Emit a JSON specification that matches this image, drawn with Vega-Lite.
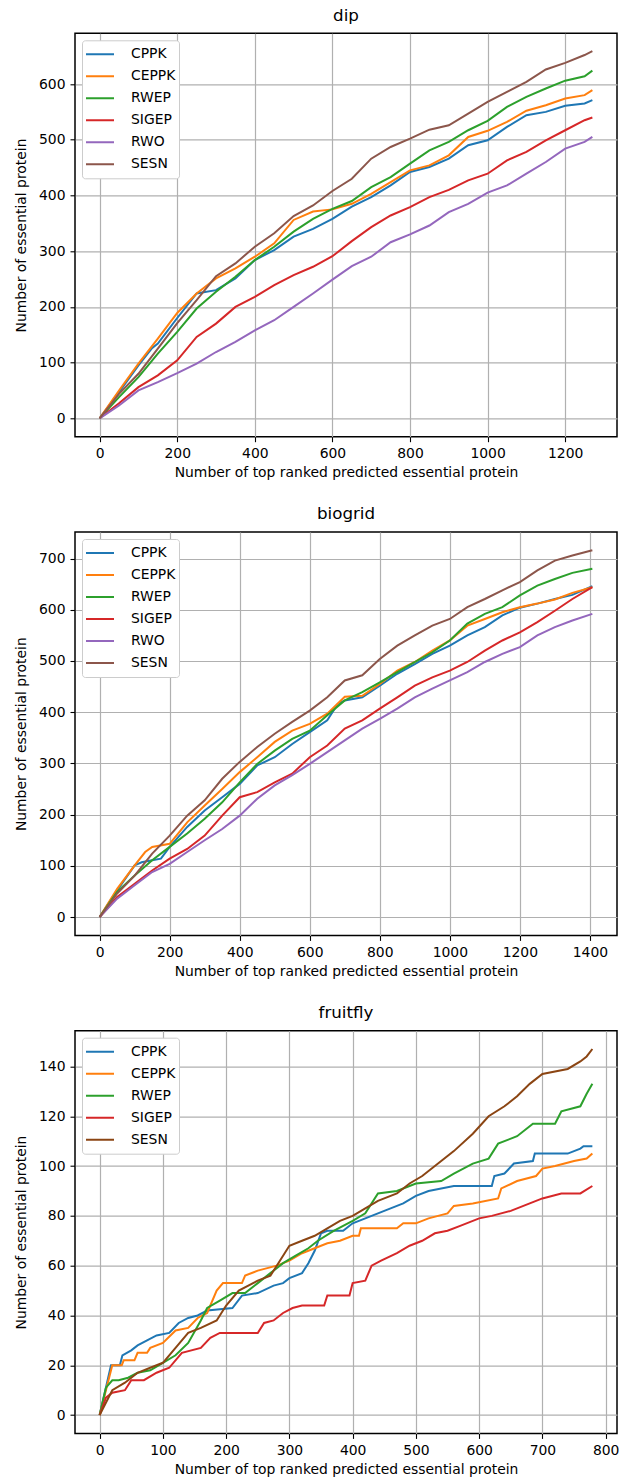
{
  "$schema": "https://vega.github.io/schema/vega-lite/v6.json",
  "autosize": {"type": "none"},
  "padding": {"left": 75, "top": 33.3, "right": 544, "bottom": 1449.7},
  "background": "white",
  "bounds": "flush",
  "spacing": 94.7,
  "datasets": {
    "dip": [
      {"m":"CPPK","x":0,"y":0},{"m":"CPPK","x":50,"y":47},{"m":"CPPK","x":100,"y":95},{"m":"CPPK","x":135,"y":126},{"m":"CPPK","x":150,"y":134},{"m":"CPPK","x":200,"y":180},{"m":"CPPK","x":250,"y":224},{"m":"CPPK","x":300,"y":230},{"m":"CPPK","x":350,"y":251},{"m":"CPPK","x":400,"y":284},{"m":"CPPK","x":450,"y":302},{"m":"CPPK","x":500,"y":326},{"m":"CPPK","x":550,"y":340},{"m":"CPPK","x":600,"y":358},{"m":"CPPK","x":650,"y":380},{"m":"CPPK","x":700,"y":397},{"m":"CPPK","x":750,"y":418},{"m":"CPPK","x":800,"y":442},{"m":"CPPK","x":850,"y":451},{"m":"CPPK","x":900,"y":466},{"m":"CPPK","x":950,"y":490},{"m":"CPPK","x":1000,"y":499},{"m":"CPPK","x":1050,"y":523},{"m":"CPPK","x":1100,"y":544},{"m":"CPPK","x":1150,"y":550},{"m":"CPPK","x":1200,"y":561},{"m":"CPPK","x":1250,"y":565},{"m":"CPPK","x":1270,"y":571},
      {"m":"CEPPK","x":0,"y":0},{"m":"CEPPK","x":50,"y":50},{"m":"CEPPK","x":100,"y":98},{"m":"CEPPK","x":150,"y":143},{"m":"CEPPK","x":200,"y":189},{"m":"CEPPK","x":250,"y":224},{"m":"CEPPK","x":300,"y":251},{"m":"CEPPK","x":350,"y":269},{"m":"CEPPK","x":400,"y":290},{"m":"CEPPK","x":450,"y":314},{"m":"CEPPK","x":500,"y":356},{"m":"CEPPK","x":550,"y":371},{"m":"CEPPK","x":600,"y":375},{"m":"CEPPK","x":650,"y":385},{"m":"CEPPK","x":700,"y":403},{"m":"CEPPK","x":750,"y":424},{"m":"CEPPK","x":800,"y":445},{"m":"CEPPK","x":850,"y":454},{"m":"CEPPK","x":900,"y":472},{"m":"CEPPK","x":950,"y":505},{"m":"CEPPK","x":1000,"y":516},{"m":"CEPPK","x":1050,"y":532},{"m":"CEPPK","x":1100,"y":552},{"m":"CEPPK","x":1150,"y":562},{"m":"CEPPK","x":1200,"y":574},{"m":"CEPPK","x":1250,"y":580},{"m":"CEPPK","x":1270,"y":589},
      {"m":"RWEP","x":0,"y":0},{"m":"RWEP","x":50,"y":38},{"m":"RWEP","x":100,"y":74},{"m":"RWEP","x":150,"y":116},{"m":"RWEP","x":200,"y":155},{"m":"RWEP","x":250,"y":197},{"m":"RWEP","x":300,"y":227},{"m":"RWEP","x":350,"y":254},{"m":"RWEP","x":400,"y":284},{"m":"RWEP","x":450,"y":308},{"m":"RWEP","x":500,"y":335},{"m":"RWEP","x":550,"y":358},{"m":"RWEP","x":600,"y":376},{"m":"RWEP","x":650,"y":390},{"m":"RWEP","x":700,"y":415},{"m":"RWEP","x":750,"y":433},{"m":"RWEP","x":800,"y":457},{"m":"RWEP","x":850,"y":481},{"m":"RWEP","x":900,"y":496},{"m":"RWEP","x":950,"y":517},{"m":"RWEP","x":1000,"y":534},{"m":"RWEP","x":1050,"y":559},{"m":"RWEP","x":1100,"y":577},{"m":"RWEP","x":1150,"y":592},{"m":"RWEP","x":1200,"y":606},{"m":"RWEP","x":1250,"y":614},{"m":"RWEP","x":1270,"y":624},
      {"m":"SIGEP","x":0,"y":0},{"m":"SIGEP","x":50,"y":27},{"m":"SIGEP","x":100,"y":56},{"m":"SIGEP","x":150,"y":77},{"m":"SIGEP","x":200,"y":104},{"m":"SIGEP","x":250,"y":146},{"m":"SIGEP","x":300,"y":170},{"m":"SIGEP","x":350,"y":200},{"m":"SIGEP","x":400,"y":218},{"m":"SIGEP","x":450,"y":239},{"m":"SIGEP","x":500,"y":257},{"m":"SIGEP","x":550,"y":272},{"m":"SIGEP","x":600,"y":291},{"m":"SIGEP","x":650,"y":318},{"m":"SIGEP","x":700,"y":343},{"m":"SIGEP","x":750,"y":364},{"m":"SIGEP","x":800,"y":379},{"m":"SIGEP","x":850,"y":397},{"m":"SIGEP","x":900,"y":410},{"m":"SIGEP","x":950,"y":427},{"m":"SIGEP","x":1000,"y":439},{"m":"SIGEP","x":1050,"y":463},{"m":"SIGEP","x":1100,"y":478},{"m":"SIGEP","x":1150,"y":499},{"m":"SIGEP","x":1200,"y":517},{"m":"SIGEP","x":1250,"y":535},{"m":"SIGEP","x":1270,"y":540},
      {"m":"RWO","x":0,"y":0},{"m":"RWO","x":50,"y":23},{"m":"RWO","x":100,"y":50},{"m":"RWO","x":150,"y":65},{"m":"RWO","x":200,"y":81},{"m":"RWO","x":250,"y":98},{"m":"RWO","x":300,"y":119},{"m":"RWO","x":350,"y":137},{"m":"RWO","x":400,"y":158},{"m":"RWO","x":450,"y":176},{"m":"RWO","x":500,"y":200},{"m":"RWO","x":550,"y":224},{"m":"RWO","x":600,"y":249},{"m":"RWO","x":650,"y":273},{"m":"RWO","x":700,"y":290},{"m":"RWO","x":750,"y":316},{"m":"RWO","x":800,"y":330},{"m":"RWO","x":850,"y":346},{"m":"RWO","x":900,"y":370},{"m":"RWO","x":950,"y":385},{"m":"RWO","x":1000,"y":405},{"m":"RWO","x":1050,"y":418},{"m":"RWO","x":1100,"y":439},{"m":"RWO","x":1150,"y":460},{"m":"RWO","x":1200,"y":484},{"m":"RWO","x":1250,"y":496},{"m":"RWO","x":1270,"y":505},
      {"m":"SESN","x":0,"y":0},{"m":"SESN","x":50,"y":44},{"m":"SESN","x":100,"y":80},{"m":"SESN","x":150,"y":125},{"m":"SESN","x":200,"y":171},{"m":"SESN","x":250,"y":212},{"m":"SESN","x":300,"y":255},{"m":"SESN","x":350,"y":278},{"m":"SESN","x":400,"y":308},{"m":"SESN","x":450,"y":332},{"m":"SESN","x":500,"y":363},{"m":"SESN","x":550,"y":382},{"m":"SESN","x":600,"y":408},{"m":"SESN","x":650,"y":430},{"m":"SESN","x":700,"y":466},{"m":"SESN","x":750,"y":487},{"m":"SESN","x":800,"y":502},{"m":"SESN","x":850,"y":518},{"m":"SESN","x":900,"y":526},{"m":"SESN","x":950,"y":547},{"m":"SESN","x":1000,"y":568},{"m":"SESN","x":1050,"y":586},{"m":"SESN","x":1100,"y":604},{"m":"SESN","x":1150,"y":626},{"m":"SESN","x":1200,"y":638},{"m":"SESN","x":1250,"y":652},{"m":"SESN","x":1270,"y":659}
    ],
    "biogrid": [
      {"m":"CPPK","x":0,"y":0},{"m":"CPPK","x":50,"y":52},{"m":"CPPK","x":100,"y":101},{"m":"CPPK","x":120,"y":107},{"m":"CPPK","x":150,"y":111},{"m":"CPPK","x":175,"y":114},{"m":"CPPK","x":200,"y":137},{"m":"CPPK","x":250,"y":176},{"m":"CPPK","x":300,"y":208},{"m":"CPPK","x":350,"y":234},{"m":"CPPK","x":400,"y":260},{"m":"CPPK","x":450,"y":296},{"m":"CPPK","x":500,"y":312},{"m":"CPPK","x":550,"y":338},{"m":"CPPK","x":600,"y":361},{"m":"CPPK","x":650,"y":384},{"m":"CPPK","x":680,"y":416},{"m":"CPPK","x":700,"y":423},{"m":"CPPK","x":750,"y":429},{"m":"CPPK","x":800,"y":452},{"m":"CPPK","x":850,"y":475},{"m":"CPPK","x":900,"y":494},{"m":"CPPK","x":950,"y":514},{"m":"CPPK","x":1000,"y":530},{"m":"CPPK","x":1050,"y":550},{"m":"CPPK","x":1100,"y":566},{"m":"CPPK","x":1150,"y":589},{"m":"CPPK","x":1200,"y":604},{"m":"CPPK","x":1250,"y":612},{"m":"CPPK","x":1300,"y":621},{"m":"CPPK","x":1350,"y":629},{"m":"CPPK","x":1407,"y":646},
      {"m":"CEPPK","x":0,"y":0},{"m":"CEPPK","x":50,"y":55},{"m":"CEPPK","x":100,"y":101},{"m":"CEPPK","x":130,"y":127},{"m":"CEPPK","x":150,"y":137},{"m":"CEPPK","x":200,"y":143},{"m":"CEPPK","x":250,"y":185},{"m":"CEPPK","x":300,"y":218},{"m":"CEPPK","x":350,"y":250},{"m":"CEPPK","x":400,"y":283},{"m":"CEPPK","x":450,"y":312},{"m":"CEPPK","x":500,"y":342},{"m":"CEPPK","x":550,"y":364},{"m":"CEPPK","x":600,"y":377},{"m":"CEPPK","x":650,"y":397},{"m":"CEPPK","x":700,"y":430},{"m":"CEPPK","x":750,"y":432},{"m":"CEPPK","x":800,"y":455},{"m":"CEPPK","x":850,"y":481},{"m":"CEPPK","x":900,"y":498},{"m":"CEPPK","x":950,"y":520},{"m":"CEPPK","x":1000,"y":540},{"m":"CEPPK","x":1050,"y":569},{"m":"CEPPK","x":1100,"y":582},{"m":"CEPPK","x":1150,"y":595},{"m":"CEPPK","x":1200,"y":605},{"m":"CEPPK","x":1250,"y":612},{"m":"CEPPK","x":1300,"y":620},{"m":"CEPPK","x":1350,"y":633},{"m":"CEPPK","x":1407,"y":644},
      {"m":"RWEP","x":0,"y":0},{"m":"RWEP","x":50,"y":49},{"m":"RWEP","x":100,"y":81},{"m":"RWEP","x":150,"y":111},{"m":"RWEP","x":200,"y":137},{"m":"RWEP","x":250,"y":163},{"m":"RWEP","x":300,"y":192},{"m":"RWEP","x":350,"y":224},{"m":"RWEP","x":400,"y":263},{"m":"RWEP","x":450,"y":299},{"m":"RWEP","x":500,"y":325},{"m":"RWEP","x":550,"y":348},{"m":"RWEP","x":600,"y":364},{"m":"RWEP","x":650,"y":394},{"m":"RWEP","x":700,"y":423},{"m":"RWEP","x":750,"y":439},{"m":"RWEP","x":800,"y":458},{"m":"RWEP","x":850,"y":478},{"m":"RWEP","x":900,"y":498},{"m":"RWEP","x":950,"y":517},{"m":"RWEP","x":1000,"y":540},{"m":"RWEP","x":1050,"y":573},{"m":"RWEP","x":1100,"y":592},{"m":"RWEP","x":1150,"y":605},{"m":"RWEP","x":1200,"y":628},{"m":"RWEP","x":1250,"y":647},{"m":"RWEP","x":1300,"y":660},{"m":"RWEP","x":1350,"y":672},{"m":"RWEP","x":1407,"y":680},
      {"m":"SIGEP","x":0,"y":0},{"m":"SIGEP","x":50,"y":39},{"m":"SIGEP","x":100,"y":65},{"m":"SIGEP","x":150,"y":91},{"m":"SIGEP","x":200,"y":114},{"m":"SIGEP","x":250,"y":133},{"m":"SIGEP","x":300,"y":159},{"m":"SIGEP","x":350,"y":198},{"m":"SIGEP","x":400,"y":234},{"m":"SIGEP","x":450,"y":244},{"m":"SIGEP","x":500,"y":263},{"m":"SIGEP","x":550,"y":280},{"m":"SIGEP","x":600,"y":312},{"m":"SIGEP","x":650,"y":335},{"m":"SIGEP","x":700,"y":368},{"m":"SIGEP","x":750,"y":384},{"m":"SIGEP","x":800,"y":407},{"m":"SIGEP","x":850,"y":429},{"m":"SIGEP","x":900,"y":452},{"m":"SIGEP","x":950,"y":468},{"m":"SIGEP","x":1000,"y":481},{"m":"SIGEP","x":1050,"y":498},{"m":"SIGEP","x":1100,"y":520},{"m":"SIGEP","x":1150,"y":540},{"m":"SIGEP","x":1200,"y":556},{"m":"SIGEP","x":1250,"y":576},{"m":"SIGEP","x":1300,"y":598},{"m":"SIGEP","x":1350,"y":621},{"m":"SIGEP","x":1407,"y":644},
      {"m":"RWO","x":0,"y":0},{"m":"RWO","x":50,"y":36},{"m":"RWO","x":100,"y":62},{"m":"RWO","x":150,"y":88},{"m":"RWO","x":200,"y":104},{"m":"RWO","x":250,"y":127},{"m":"RWO","x":300,"y":150},{"m":"RWO","x":350,"y":172},{"m":"RWO","x":400,"y":198},{"m":"RWO","x":450,"y":231},{"m":"RWO","x":500,"y":257},{"m":"RWO","x":550,"y":277},{"m":"RWO","x":600,"y":299},{"m":"RWO","x":650,"y":322},{"m":"RWO","x":700,"y":345},{"m":"RWO","x":750,"y":368},{"m":"RWO","x":800,"y":387},{"m":"RWO","x":850,"y":407},{"m":"RWO","x":900,"y":429},{"m":"RWO","x":950,"y":446},{"m":"RWO","x":1000,"y":462},{"m":"RWO","x":1050,"y":478},{"m":"RWO","x":1100,"y":498},{"m":"RWO","x":1150,"y":514},{"m":"RWO","x":1200,"y":527},{"m":"RWO","x":1250,"y":550},{"m":"RWO","x":1300,"y":566},{"m":"RWO","x":1350,"y":579},{"m":"RWO","x":1407,"y":592},
      {"m":"SESN","x":0,"y":0},{"m":"SESN","x":50,"y":46},{"m":"SESN","x":100,"y":81},{"m":"SESN","x":150,"y":124},{"m":"SESN","x":200,"y":159},{"m":"SESN","x":250,"y":198},{"m":"SESN","x":300,"y":228},{"m":"SESN","x":350,"y":270},{"m":"SESN","x":400,"y":303},{"m":"SESN","x":450,"y":332},{"m":"SESN","x":500,"y":358},{"m":"SESN","x":550,"y":381},{"m":"SESN","x":600,"y":403},{"m":"SESN","x":650,"y":429},{"m":"SESN","x":700,"y":462},{"m":"SESN","x":750,"y":472},{"m":"SESN","x":800,"y":504},{"m":"SESN","x":850,"y":530},{"m":"SESN","x":900,"y":550},{"m":"SESN","x":950,"y":569},{"m":"SESN","x":1000,"y":582},{"m":"SESN","x":1050,"y":605},{"m":"SESN","x":1100,"y":621},{"m":"SESN","x":1150,"y":638},{"m":"SESN","x":1200,"y":654},{"m":"SESN","x":1250,"y":677},{"m":"SESN","x":1300,"y":696},{"m":"SESN","x":1350,"y":706},{"m":"SESN","x":1407,"y":716}
    ],
    "fruitfly": [
      {"m":"CPPK","x":0,"y":0},{"m":"CPPK","x":18,"y":20},{"m":"CPPK","x":32,"y":20},{"m":"CPPK","x":36,"y":24},{"m":"CPPK","x":50,"y":26},{"m":"CPPK","x":60,"y":28},{"m":"CPPK","x":75,"y":30},{"m":"CPPK","x":90,"y":32},{"m":"CPPK","x":110,"y":33},{"m":"CPPK","x":125,"y":37},{"m":"CPPK","x":140,"y":39},{"m":"CPPK","x":155,"y":40},{"m":"CPPK","x":170,"y":42},{"m":"CPPK","x":210,"y":43},{"m":"CPPK","x":225,"y":48},{"m":"CPPK","x":250,"y":49},{"m":"CPPK","x":275,"y":52},{"m":"CPPK","x":290,"y":53},{"m":"CPPK","x":300,"y":55},{"m":"CPPK","x":320,"y":57},{"m":"CPPK","x":330,"y":61},{"m":"CPPK","x":340,"y":66},{"m":"CPPK","x":350,"y":73},{"m":"CPPK","x":360,"y":74},{"m":"CPPK","x":385,"y":74},{"m":"CPPK","x":400,"y":77},{"m":"CPPK","x":430,"y":80},{"m":"CPPK","x":460,"y":83},{"m":"CPPK","x":480,"y":85},{"m":"CPPK","x":500,"y":88},{"m":"CPPK","x":520,"y":90},{"m":"CPPK","x":560,"y":92},{"m":"CPPK","x":620,"y":92},{"m":"CPPK","x":624,"y":96},{"m":"CPPK","x":640,"y":97},{"m":"CPPK","x":655,"y":101},{"m":"CPPK","x":685,"y":102},{"m":"CPPK","x":688,"y":105},{"m":"CPPK","x":740,"y":105},{"m":"CPPK","x":760,"y":107},{"m":"CPPK","x":765,"y":108},{"m":"CPPK","x":779,"y":108},
      {"m":"CEPPK","x":0,"y":0},{"m":"CEPPK","x":20,"y":20},{"m":"CEPPK","x":35,"y":20},{"m":"CEPPK","x":38,"y":22},{"m":"CEPPK","x":55,"y":22},{"m":"CEPPK","x":60,"y":25},{"m":"CEPPK","x":75,"y":25},{"m":"CEPPK","x":80,"y":27},{"m":"CEPPK","x":100,"y":29},{"m":"CEPPK","x":120,"y":34},{"m":"CEPPK","x":140,"y":35},{"m":"CEPPK","x":155,"y":39},{"m":"CEPPK","x":170,"y":41},{"m":"CEPPK","x":185,"y":50},{"m":"CEPPK","x":195,"y":53},{"m":"CEPPK","x":225,"y":53},{"m":"CEPPK","x":230,"y":56},{"m":"CEPPK","x":250,"y":58},{"m":"CEPPK","x":280,"y":60},{"m":"CEPPK","x":300,"y":62},{"m":"CEPPK","x":320,"y":65},{"m":"CEPPK","x":340,"y":67},{"m":"CEPPK","x":360,"y":69},{"m":"CEPPK","x":380,"y":70},{"m":"CEPPK","x":400,"y":72},{"m":"CEPPK","x":410,"y":72},{"m":"CEPPK","x":413,"y":75},{"m":"CEPPK","x":470,"y":75},{"m":"CEPPK","x":480,"y":77},{"m":"CEPPK","x":500,"y":77},{"m":"CEPPK","x":520,"y":79},{"m":"CEPPK","x":550,"y":81},{"m":"CEPPK","x":560,"y":84},{"m":"CEPPK","x":590,"y":85},{"m":"CEPPK","x":630,"y":87},{"m":"CEPPK","x":635,"y":91},{"m":"CEPPK","x":660,"y":94},{"m":"CEPPK","x":690,"y":96},{"m":"CEPPK","x":700,"y":99},{"m":"CEPPK","x":720,"y":100},{"m":"CEPPK","x":750,"y":102},{"m":"CEPPK","x":770,"y":103},{"m":"CEPPK","x":779,"y":105},
      {"m":"RWEP","x":0,"y":0},{"m":"RWEP","x":10,"y":11},{"m":"RWEP","x":20,"y":14},{"m":"RWEP","x":30,"y":14},{"m":"RWEP","x":45,"y":15},{"m":"RWEP","x":60,"y":17},{"m":"RWEP","x":80,"y":18},{"m":"RWEP","x":100,"y":21},{"m":"RWEP","x":120,"y":24},{"m":"RWEP","x":140,"y":29},{"m":"RWEP","x":160,"y":38},{"m":"RWEP","x":170,"y":43},{"m":"RWEP","x":190,"y":46},{"m":"RWEP","x":210,"y":49},{"m":"RWEP","x":230,"y":49},{"m":"RWEP","x":250,"y":53},{"m":"RWEP","x":270,"y":57},{"m":"RWEP","x":290,"y":61},{"m":"RWEP","x":310,"y":64},{"m":"RWEP","x":330,"y":67},{"m":"RWEP","x":345,"y":70},{"m":"RWEP","x":370,"y":74},{"m":"RWEP","x":400,"y":78},{"m":"RWEP","x":420,"y":81},{"m":"RWEP","x":440,"y":89},{"m":"RWEP","x":470,"y":90},{"m":"RWEP","x":500,"y":93},{"m":"RWEP","x":540,"y":94},{"m":"RWEP","x":560,"y":97},{"m":"RWEP","x":590,"y":101},{"m":"RWEP","x":615,"y":103},{"m":"RWEP","x":630,"y":109},{"m":"RWEP","x":660,"y":112},{"m":"RWEP","x":685,"y":117},{"m":"RWEP","x":720,"y":117},{"m":"RWEP","x":730,"y":122},{"m":"RWEP","x":760,"y":124},{"m":"RWEP","x":770,"y":129},{"m":"RWEP","x":779,"y":133},
      {"m":"SIGEP","x":0,"y":0},{"m":"SIGEP","x":10,"y":7},{"m":"SIGEP","x":20,"y":9},{"m":"SIGEP","x":40,"y":10},{"m":"SIGEP","x":50,"y":14},{"m":"SIGEP","x":70,"y":14},{"m":"SIGEP","x":90,"y":17},{"m":"SIGEP","x":110,"y":19},{"m":"SIGEP","x":130,"y":25},{"m":"SIGEP","x":160,"y":27},{"m":"SIGEP","x":175,"y":31},{"m":"SIGEP","x":190,"y":33},{"m":"SIGEP","x":250,"y":33},{"m":"SIGEP","x":260,"y":37},{"m":"SIGEP","x":275,"y":38},{"m":"SIGEP","x":290,"y":41},{"m":"SIGEP","x":305,"y":43},{"m":"SIGEP","x":320,"y":44},{"m":"SIGEP","x":355,"y":44},{"m":"SIGEP","x":360,"y":48},{"m":"SIGEP","x":395,"y":48},{"m":"SIGEP","x":400,"y":53},{"m":"SIGEP","x":420,"y":54},{"m":"SIGEP","x":430,"y":60},{"m":"SIGEP","x":445,"y":62},{"m":"SIGEP","x":470,"y":65},{"m":"SIGEP","x":490,"y":68},{"m":"SIGEP","x":510,"y":70},{"m":"SIGEP","x":530,"y":73},{"m":"SIGEP","x":550,"y":74},{"m":"SIGEP","x":570,"y":76},{"m":"SIGEP","x":600,"y":79},{"m":"SIGEP","x":620,"y":80},{"m":"SIGEP","x":650,"y":82},{"m":"SIGEP","x":680,"y":85},{"m":"SIGEP","x":700,"y":87},{"m":"SIGEP","x":730,"y":89},{"m":"SIGEP","x":760,"y":89},{"m":"SIGEP","x":779,"y":92},
      {"m":"SESN","x":0,"y":0},{"m":"SESN","x":20,"y":10},{"m":"SESN","x":40,"y":13},{"m":"SESN","x":60,"y":17},{"m":"SESN","x":80,"y":19},{"m":"SESN","x":100,"y":21},{"m":"SESN","x":120,"y":27},{"m":"SESN","x":140,"y":33},{"m":"SESN","x":160,"y":35},{"m":"SESN","x":185,"y":38},{"m":"SESN","x":200,"y":44},{"m":"SESN","x":220,"y":50},{"m":"SESN","x":250,"y":54},{"m":"SESN","x":270,"y":56},{"m":"SESN","x":280,"y":60},{"m":"SESN","x":300,"y":68},{"m":"SESN","x":320,"y":70},{"m":"SESN","x":340,"y":72},{"m":"SESN","x":360,"y":75},{"m":"SESN","x":380,"y":78},{"m":"SESN","x":400,"y":80},{"m":"SESN","x":420,"y":83},{"m":"SESN","x":440,"y":86},{"m":"SESN","x":470,"y":89},{"m":"SESN","x":490,"y":93},{"m":"SESN","x":510,"y":96},{"m":"SESN","x":540,"y":102},{"m":"SESN","x":560,"y":106},{"m":"SESN","x":590,"y":113},{"m":"SESN","x":615,"y":120},{"m":"SESN","x":640,"y":124},{"m":"SESN","x":660,"y":128},{"m":"SESN","x":680,"y":133},{"m":"SESN","x":700,"y":137},{"m":"SESN","x":740,"y":139},{"m":"SESN","x":760,"y":142},{"m":"SESN","x":770,"y":144},{"m":"SESN","x":779,"y":147}
    ]
  },
  "vconcat": [
    {
      "title": "dip",
      "width": 542,
      "height": 403.4,
      "data": {"name": "dip"},
      "mark": {"type": "line", "strokeWidth": 2},
      "encoding": {
        "x": {"field": "x", "type": "quantitative", "scale": {"domain": [-63.5, 1333.5], "nice": false, "zero": false},
              "axis": {"values": [0, 200, 400, 600, 800, 1000, 1200], "format": "d", "title": "Number of top ranked predicted essential protein"}},
        "y": {"field": "y", "type": "quantitative", "scale": {"domain": [-33, 691], "nice": false, "zero": false},
              "axis": {"values": [0, 100, 200, 300, 400, 500, 600], "format": "d", "title": "Number of essential protein"}},
        "color": {"field": "m", "type": "nominal",
                  "scale": {"domain": ["CPPK", "CEPPK", "RWEP", "SIGEP", "RWO", "SESN"], "range": ["#1f77b4", "#ff7f0e", "#2ca02c", "#d62728", "#9467bd", "#8c564b"]},
                  "legend": {"title": null}}
      }
    },
    {
      "title": "biogrid",
      "width": 542,
      "height": 403.4,
      "data": {"name": "biogrid"},
      "mark": {"type": "line", "strokeWidth": 2},
      "encoding": {
        "x": {"field": "x", "type": "quantitative", "scale": {"domain": [-70.35, 1477.4], "nice": false, "zero": false},
              "axis": {"values": [0, 200, 400, 600, 800, 1000, 1200, 1400], "format": "d", "title": "Number of top ranked predicted essential protein"}},
        "y": {"field": "y", "type": "quantitative", "scale": {"domain": [-35.8, 751.8], "nice": false, "zero": false},
              "axis": {"values": [0, 100, 200, 300, 400, 500, 600, 700], "format": "d", "title": "Number of essential protein"}},
        "color": {"field": "m", "type": "nominal",
                  "scale": {"domain": ["CPPK", "CEPPK", "RWEP", "SIGEP", "RWO", "SESN"], "range": ["#1f77b4", "#ff7f0e", "#2ca02c", "#d62728", "#9467bd", "#8c564b"]},
                  "legend": {"title": null}}
      }
    },
    {
      "title": "fruitfly",
      "width": 542,
      "height": 402.7,
      "data": {"name": "fruitfly"},
      "mark": {"type": "line", "strokeWidth": 2},
      "encoding": {
        "x": {"field": "x", "type": "quantitative", "scale": {"domain": [-38.95, 817.95], "nice": false, "zero": false},
              "axis": {"values": [0, 100, 200, 300, 400, 500, 600, 700, 800], "format": "d", "title": "Number of top ranked predicted essential protein"}},
        "y": {"field": "y", "type": "quantitative", "scale": {"domain": [-7.35, 154.35], "nice": false, "zero": false},
              "axis": {"values": [0, 20, 40, 60, 80, 100, 120, 140], "format": "d", "title": "Number of essential protein"}},
        "color": {"field": "m", "type": "nominal",
                  "scale": {"domain": ["CPPK", "CEPPK", "RWEP", "SIGEP", "SESN"], "range": ["#1f77b4", "#ff7f0e", "#2ca02c", "#d62728", "#8b4513"]},
                  "legend": {"title": null}}
      }
    }
  ],
  "resolve": {"scale": {"color": "independent", "x": "independent", "y": "independent"}, "legend": {"color": "independent"}},
  "config": {
    "font": "DejaVu Sans",
    "view": {"stroke": "black", "strokeWidth": 1.5},
    "axis": {
      "domain": false, "grid": true, "gridColor": "#b0b0b0", "gridWidth": 1.2, "gridOpacity": 1,
      "tickColor": "black", "tickSize": 5, "tickWidth": 1.1,
      "labelFont": "DejaVu Sans", "labelFontSize": 13.9, "labelColor": "black", "labelPadding": 5, "labelFlush": false, "labelOverlap": false,
      "titleFont": "DejaVu Sans", "titleFontSize": 13.9, "titleFontWeight": "normal", "titleColor": "black"
    },
    "axisX": {"titlePadding": 5},
    "axisY": {"titlePadding": 10},
    "title": {"font": "DejaVu Sans", "fontSize": 16.7, "fontWeight": "normal", "color": "black", "anchor": "middle", "frame": "group", "offset": 8.9, "baseline": "alphabetic"},
    "legend": {
      "orient": "top-left", "offset": 7, "padding": 3, "strokeColor": "#cccccc", "fillColor": "white", "cornerRadius": 3,
      "symbolType": "stroke", "symbolStrokeWidth": 2, "symbolSize": 784,
      "labelFont": "DejaVu Sans", "labelFontSize": 13.9, "labelColor": "black", "labelOffset": 16,
      "clipHeight": 22, "rowPadding": 0
    }
  }
}
